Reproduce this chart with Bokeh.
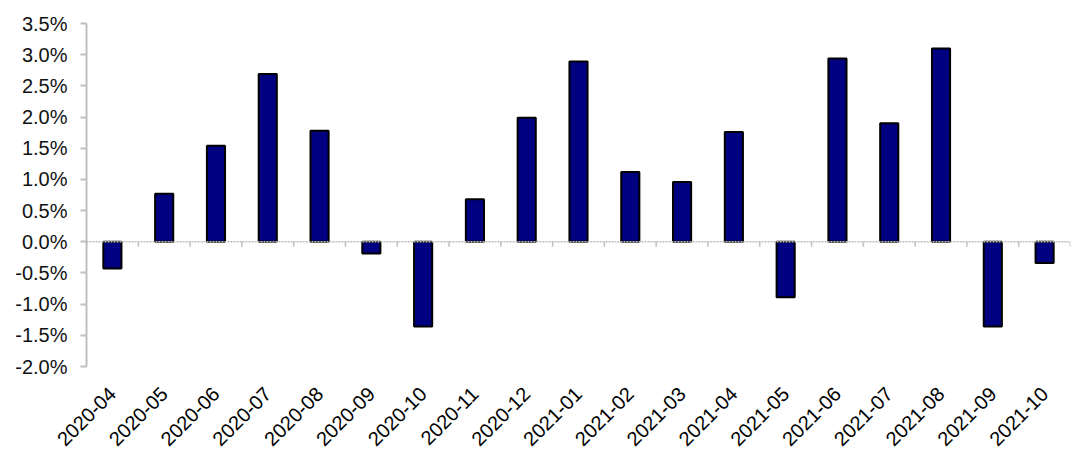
import math
from bokeh.plotting import figure
from bokeh.models import (ColumnDataSource, FactorRange, Range1d, FixedTicker,
                          PrintfTickFormatter, Span)
from bokeh.embed import file_html
from bokeh.resources import INLINE

categories = ["2020-04", "2020-05", "2020-06", "2020-07", "2020-08", "2020-09",
              "2020-10", "2020-11", "2020-12", "2021-01", "2021-02", "2021-03",
              "2021-04", "2021-05", "2021-06", "2021-07", "2021-08", "2021-09",
              "2021-10"]
values = [-0.43, 0.77, 1.54, 2.69, 1.78, -0.19, -1.36, 0.68, 1.99, 2.89, 1.12,
          0.96, 1.76, -0.89, 2.94, 1.90, 3.10, -1.36, -0.34]
y_ticks = [-2.0, -1.5, -1.0, -0.5, 0.0, 0.5, 1.0, 1.5, 2.0, 2.5, 3.0, 3.5]

FONT = "Liberation Sans"
GREY = "#bfbfbf"

p = figure(width=1072, height=459, x_range=FactorRange(*categories),
           y_range=Range1d(y_ticks[0], y_ticks[-1]),
           output_backend="svg", toolbar_location=None,
           min_border_left=86, min_border_right=2, min_border_top=23,
           min_border_bottom=93)
p.outline_line_color = None
p.xgrid.grid_line_color = None
p.ygrid.grid_line_color = None

src = ColumnDataSource(dict(x=categories, top=values))
p.vbar(x="x", top="top", bottom=0, width=0.35, source=src,
       fill_color="#000080", line_color="black", line_width=2)

# zero line with boundary ticks
p.add_layout(Span(location=0, dimension="width", line_color=GREY,
                  line_dash="2 1", line_width=1.5))
n = len(categories)
bx = [(c, -0.5) for c in categories] + [(categories[-1], 0.5)]
tick_src = ColumnDataSource(dict(x=bx, y0=[0.0] * (n + 1), y1=[-0.08] * (n + 1)))
p.segment(x0="x", y0="y0", x1="x", y1="y1", source=tick_src,
          line_color=GREY, line_width=1.5)

ya = p.yaxis[0]
ya.ticker = FixedTicker(ticks=y_ticks)
ya.formatter = PrintfTickFormatter(format="%.1f%%")
ya.axis_line_color = GREY
ya.axis_line_width = 2
ya.major_tick_line_color = GREY
ya.major_tick_line_width = 2
ya.major_tick_in = 0
ya.major_tick_out = 6
ya.minor_tick_line_color = None
ya.major_label_standoff = 13
ya.major_label_text_font = FONT
ya.major_label_text_font_size = "20px"
ya.major_label_text_color = "#111111"

xa = p.xaxis[0]
xa.axis_line_color = None
xa.major_tick_line_color = None
xa.major_label_orientation = math.pi / 4
xa.major_label_standoff = 18
xa.major_label_text_font = FONT
xa.major_label_text_font_size = "20px"
xa.major_label_text_color = "#000000"

open("out.html", "w").write(file_html(p, INLINE))
